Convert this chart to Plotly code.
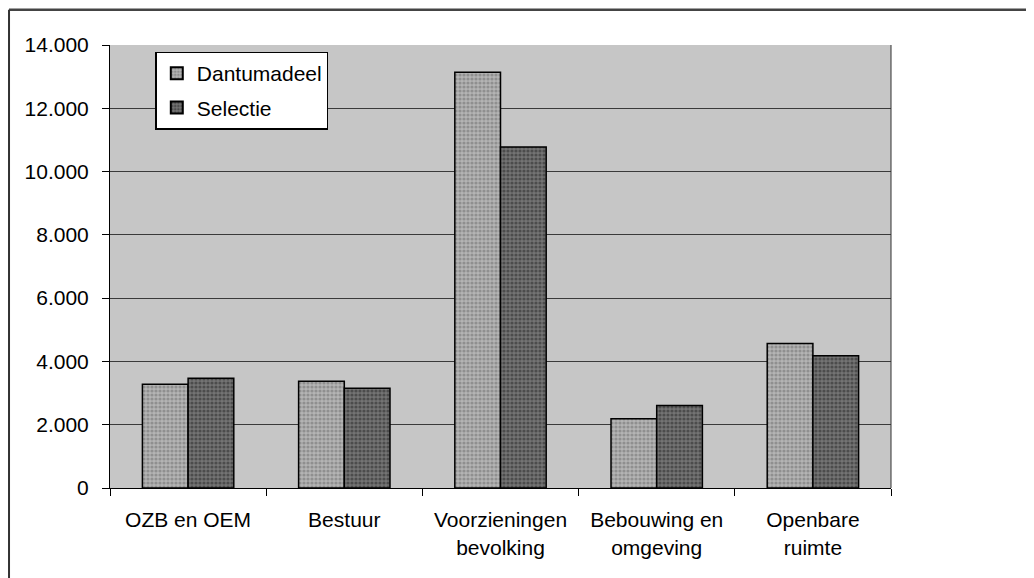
import plotly.graph_objects as go

categories = ["OZB en OEM", "Bestuur", "Voorzieningen<br>bevolking", "Bebouwing en<br>omgeving", "Openbare<br>ruimte"]
dantumadeel = [3280, 3370, 13140, 2190, 4570]
selectie = [3470, 3150, 10780, 2610, 4180]
tick_vals = [0, 2000, 4000, 6000, 8000, 10000, 12000, 14000]
tick_text = ["0", "2.000", "4.000", "6.000", "8.000", "10.000", "12.000", "14.000"]

FONT = "Liberation Sans, Arial, sans-serif"

fig = go.Figure()
fig.add_trace(go.Bar(
    name="Dantumadeel", x=categories, y=dantumadeel, legendgroup="a",
    marker=dict(color="#9c9c9c", line=dict(color="#000000", width=1.5),
                pattern=dict(shape=".", fgcolor="#6a6a6a", bgcolor="#b4b4b4", size=4, solidity=0.5)),
))
fig.add_trace(go.Bar(
    name="Selectie", x=categories, y=selectie, legendgroup="b",
    marker=dict(color="#505050", line=dict(color="#000000", width=1.5),
                pattern=dict(shape=".", fgcolor="#262626", bgcolor="#737373", size=4, solidity=0.5)),
))

fig.update_layout(
    width=1034, height=578,
    margin=dict(l=102, r=151, t=37, b=98),
    paper_bgcolor="white",
    plot_bgcolor="#c6c6c6",
    barmode="group",
    bargap=0.415,
    bargroupgap=0,
    font=dict(family=FONT, size=21, color="#000000"),
    showlegend=True,
    legend=dict(
        x=0.058, y=0.985, xanchor="left", yanchor="top",
        bgcolor="white", bordercolor="#000000", borderwidth=1.5,
        font=dict(family=FONT, size=21, color="#000000"),
        itemsizing="constant", tracegroupgap=4, itemwidth=30,
    ),
    xaxis=dict(
        showline=True, linecolor="#000000", linewidth=1,
        ticks="outside", tickson="boundaries", ticklen=7, tickcolor="#000000",
        showgrid=False, tickfont=dict(family=FONT, size=21, color="#000000"),
        ticklabelstandoff=13,
    ),
    yaxis=dict(
        range=[0, 14000], tickvals=tick_vals, ticktext=tick_text,
        showline=True, linecolor="#000000", linewidth=1,
        ticks="outside", ticklen=7, tickcolor="#000000",
        showgrid=True, gridcolor="#3a3a3a", gridwidth=1,
        zeroline=False,
        tickfont=dict(family=FONT, size=21, color="#000000"),
        ticklabelstandoff=9,
    ),
    shapes=[
        # outer frame (top and left visible)
        dict(type="line", xref="paper", yref="paper", x0=-0.1293, x1=1.2, y0=1.0797, y1=1.0797,
             line=dict(color="#444444", width=2.5)),
        dict(type="line", xref="paper", yref="paper", x0=-0.1293, x1=-0.1293, y0=1.0797, y1=-0.23,
             line=dict(color="#333333", width=2)),
        # right edge of plot area
        dict(type="line", xref="paper", yref="paper", x0=1, x1=1, y0=0, y1=1,
             line=dict(color="#333333", width=1)),
    ],
)

fig.write_html("out.html")
